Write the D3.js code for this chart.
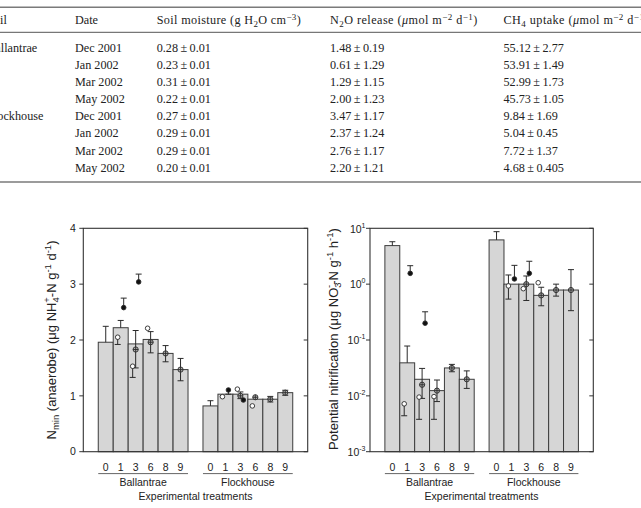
<!DOCTYPE html>
<html><head><meta charset="utf-8">
<script src="https://cdn.jsdelivr.net/npm/d3@7"></script>
<style>
html,body{margin:0;padding:0;background:#fff;}
svg{display:block;}
</style></head>
<body>
<svg id="fig" width="641" height="508"></svg>
<script>
// ---------- Table data ----------
const tblSoil = ["Ballantrae","","","","Flockhouse","","",""];
const tblDate = ["Dec 2001","Jan 2002","Mar 2002","May 2002","Dec 2001","Jan 2002","Mar 2002","May 2002"];
const moistMean = [0.28,0.23,0.31,0.22,0.27,0.29,0.29,0.20];
const moistSE = [0.01,0.01,0.01,0.01,0.01,0.01,0.01,0.01];
const n2oMean = [1.48,0.61,1.29,2.00,3.47,2.37,2.76,2.20];
const n2oSE = [0.19,1.29,1.15,1.23,1.17,1.24,1.17,1.21];
const ch4Mean = [55.12,53.91,52.99,45.73,9.84,5.04,7.72,4.68];
const ch4SE = [2.77,1.49,1.73,1.05,1.69,0.45,1.37,0.405];

// ---------- Chart data ----------
const treatments = ["0","1","3","6","8","9"];
const sites = ["Ballantrae","Flockhouse"];

// Panel 1: N min (anaerobe)
const nminBarB = [1.96, 2.22, 1.93, 2.01, 1.76, 1.47];
const nminBarF = [0.82, 1.03, 1.03, 0.94, 0.94, 1.057];
const nminBarHiB = [2.245, 2.35, null, null, null, null];
const nminBarHiF = [0.913, null, null, null, null, null];
// markers: [site, treatment, value, low, high]
const nminOpen = [["Ballantrae","1",2.05,1.92,null],["Ballantrae","3",1.53,1.33,null],["Ballantrae","6",2.21,null,null],
  ["Flockhouse","1",0.985,null,null],["Flockhouse","3",1.12,null,null],["Flockhouse","6",0.82,null,null]];
const nminFilled = [["Ballantrae","1",2.58,null,2.75],["Ballantrae","3",3.04,null,3.18],
  ["Flockhouse","1",1.105,1.03,null],["Flockhouse","3",0.925,null,null]];
const nminGrey = [["Ballantrae","3",1.83,1.50,2.17],["Ballantrae","6",1.96,1.77,2.15],["Ballantrae","8",1.76,1.61,1.90],["Ballantrae","9",1.47,1.27,1.67],
  ["Flockhouse","3",1.0,0.95,1.07],["Flockhouse","6",0.975,null,null],["Flockhouse","8",0.94,0.89,0.99],["Flockhouse","9",1.057,1.01,1.10]];
const nminTicks = [0,1,2,3,4];

// Panel 2: Potential nitrification (log)
const nitBarB = [4.9, 0.039, 0.0198, 0.0124, 0.0316, 0.0198];
const nitBarF = [6.2, 1.0, 1.0, 0.63, 0.785, 0.785];
const nitBarHiB = [5.75, 0.078, null, null, null, null];
const nitBarHiF = [8.7, null, null, null, null, null];
const nitOpen = [["Ballantrae","1",0.0072,0.0044,null],["Ballantrae","3",0.0095,0.0038,null],["Ballantrae","6",0.0097,0.0038,null],
  ["Flockhouse","1",0.93,0.54,1.46],["Flockhouse","3",0.83,null,null],["Flockhouse","6",1.06,null,null]];
const nitFilled = [["Ballantrae","1",1.56,null,2.14],["Ballantrae","3",0.2,null,0.32],
  ["Flockhouse","1",1.24,null,2.17],["Flockhouse","3",1.56,null,2.57]];
const nitGrey = [["Ballantrae","3",0.0158,0.009,0.031],["Ballantrae","6",0.0124,0.0079,0.0192],["Ballantrae","8",0.0316,0.027,0.0366],["Ballantrae","9",0.0198,0.0136,0.028],
  ["Flockhouse","3",1.0,0.51,1.40],["Flockhouse","6",0.63,0.41,0.88],["Flockhouse","8",0.785,0.61,1.0],["Flockhouse","9",0.785,0.335,1.82]];
const nitTickExp = [-3,-2,-1,0,1];

// ---------- Drawing ----------
const svg = d3.select("#fig");
const serif = "'Liberation Serif','Times New Roman',serif";
const sans = "'Liberation Sans',Arial,Helvetica,sans-serif";
const ink = "#2a2a2a";

// Table
const tbl = svg.append("g").attr("font-family", serif).attr("font-size", 12.2).attr("fill", "#222");
tbl.append("line").attr("x1",0).attr("x2",641).attr("y1",7.3).attr("y2",7.3).attr("stroke","#7a7a7a").attr("stroke-width",1.4);
tbl.append("line").attr("x1",0).attr("x2",641).attr("y1",32.3).attr("y2",32.3).attr("stroke","#555").attr("stroke-width",1);
tbl.append("line").attr("x1",0).attr("x2",641).attr("y1",182).attr("y2",182).attr("stroke","#7a7a7a").attr("stroke-width",1.4);
const colX = [-12.8, 75, 156.7, 330, 503.5];
const hdrY = 24.3;
function rich(g, x, y, parts, ls){
  const t = g.append("text").attr("x", x).attr("y", y);
  if (ls) t.attr("letter-spacing", ls);
  parts.forEach(p => {
    const s = t.append("tspan").text(p.t);
    if (p.dy) s.attr("dy", p.dy);
    if (p.fs) s.attr("font-size", p.fs);
    if (p.it) s.attr("font-style", "italic");
    if (p.dx) s.attr("dx", p.dx);
  });
  return t;
}
rich(tbl, colX[0], hdrY, [{t:"Soil"}]);
rich(tbl, colX[1], hdrY, [{t:"Date"}]);
rich(tbl, colX[2], hdrY, [{t:"Soil moisture (g H"},{t:"2",dy:3,fs:9},{t:"O cm",dy:-3},{t:"−3",dy:-4.5,fs:9},{t:")",dy:4.5}], 0.35);
rich(tbl, colX[3], hdrY, [{t:"N"},{t:"2",dy:3,fs:9},{t:"O release (",dy:-3},{t:"μ",it:true},{t:"mol m"},{t:"−2",dy:-4.5,fs:9},{t:" d",dy:4.5},{t:"−1",dy:-4.5,fs:9},{t:")",dy:4.5}], 0.45);
rich(tbl, colX[4], hdrY, [{t:"CH"},{t:"4",dy:3,fs:9},{t:" uptake (",dy:-3},{t:"μ",it:true},{t:"mol m"},{t:"−2",dy:-4.5,fs:9},{t:" d",dy:4.5},{t:"−1",dy:-4.5,fs:9},{t:")",dy:4.5}], 0.45);
const fmt = v => (Math.abs(Math.round(v*100) - v*100) > 1e-6) ? v.toFixed(3) : v.toFixed(2);
const pm = "\u2009±\u2009";
const rowY = d3.range(8).map(i => 51.7 + i*17.15);
tblDate.forEach((d,i) => {
  if (tblSoil[i]) tbl.append("text").attr("x", colX[0]).attr("y", rowY[i]).text(tblSoil[i]);
  tbl.append("text").attr("x", colX[1]).attr("y", rowY[i]).text(d);
  tbl.append("text").attr("x", colX[2]).attr("y", rowY[i]).text(fmt(moistMean[i]) + pm + fmt(moistSE[i]));
  tbl.append("text").attr("x", colX[3]).attr("y", rowY[i]).text(fmt(n2oMean[i]) + pm + fmt(n2oSE[i]));
  tbl.append("text").attr("x", colX[4]).attr("y", rowY[i]).text(fmt(ch4Mean[i]) + pm + fmt(ch4SE[i]));
});

// Chart helper
const slots = ["_a", ...treatments.map(t => "Ballantrae|" + t), "_b", ...treatments.map(t => "Flockhouse|" + t), "_c"];
const yTop = 228.3, yBot = 451.7;
const markOff = {open: -3, grey: 0, filled: 3};

function panel(cfg){
  const g = svg.append("g");
  const x = d3.scaleBand().domain(slots).range([cfg.x0, cfg.x1]).padding(0);
  const y = cfg.y;
  const bw = x.bandwidth();
  const barData = [];
  sites.forEach((s,si) => treatments.forEach((t,ti) => {
    barData.push({key: s+"|"+t, v: cfg.bars[si][ti], hi: cfg.barHi[si][ti]});
  }));
  // bars
  g.selectAll("rect.bar").data(barData).join("rect")
    .attr("x", d => x(d.key)).attr("width", bw)
    .attr("y", d => y(d.v)).attr("height", d => yBot - y(d.v))
    .attr("fill", "#d6d6d6").attr("stroke", "#3c3c3c").attr("stroke-width", 1);
  // bar error (upper)
  const be = barData.filter(d => d.hi != null);
  const cx = d => x(d.key) + bw/2;
  g.selectAll("line.be").data(be).join("line")
    .attr("x1", cx).attr("x2", cx).attr("y1", d => y(d.v)).attr("y2", d => y(d.hi))
    .attr("stroke", ink).attr("stroke-width", 1);
  g.selectAll("line.bec").data(be).join("line")
    .attr("x1", d => cx(d) - 3).attr("x2", d => cx(d) + 3).attr("y1", d => y(d.hi)).attr("y2", d => y(d.hi))
    .attr("stroke", ink).attr("stroke-width", 1);

  function markers(arr, type){
    const data = arr.map(a => ({key: a[0]+"|"+a[1], v: a[2], lo: a[3], hi: a[4]}));
    const mx = d => x(d.key) + bw/2 + markOff[type];
    const mg = g.append("g");
    data.forEach(d => {
      const xx = mx(d);
      [[d.lo],[d.hi]].forEach(([e]) => {
        if (e == null) return;
        mg.append("line").attr("x1", xx).attr("x2", xx).attr("y1", y(d.v)).attr("y2", y(e)).attr("stroke", ink).attr("stroke-width", 1);
        mg.append("line").attr("x1", xx-3).attr("x2", xx+3).attr("y1", y(e)).attr("y2", y(e)).attr("stroke", ink).attr("stroke-width", 1);
      });
    });
    mg.selectAll("circle").data(data).join("circle")
      .attr("cx", mx).attr("cy", d => y(d.v)).attr("r", type === "grey" ? 2.6 : 2.3)
      .attr("fill", type === "open" ? "#fff" : type === "filled" ? "#111" : "#b0b0b0")
      .attr("stroke", ink).attr("stroke-width", 0.9);
    if (type === "grey") {
      mg.selectAll("line.ch").data(data).join("line")
        .attr("x1", d => mx(d) - 2.6).attr("x2", d => mx(d) + 2.6).attr("y1", d => y(d.v)).attr("y2", d => y(d.v))
        .attr("stroke", ink).attr("stroke-width", 0.9);
      mg.selectAll("line.cv").data(data).join("line")
        .attr("x1", mx).attr("x2", mx).attr("y1", d => y(d.v) - 2.6).attr("y2", d => y(d.v) + 2.6)
        .attr("stroke", ink).attr("stroke-width", 0.9);
    }
  }
  markers(cfg.grey, "grey");
  markers(cfg.open, "open");
  markers(cfg.filled, "filled");

  // frame
  g.append("rect").attr("x", cfg.x0).attr("y", yTop).attr("width", cfg.x1 - cfg.x0).attr("height", yBot - yTop)
    .attr("fill", "none").attr("stroke", "#333").attr("stroke-width", 1.1);
  // y ticks left (outward) and right (inward)
  const tickVals = cfg.ticks;
  g.selectAll("line.tl").data(tickVals).join("line")
    .attr("x1", cfg.x0 - 4).attr("x2", cfg.x0).attr("y1", d => y(d)).attr("y2", d => y(d)).attr("stroke", "#333");
  g.selectAll("line.tr").data(tickVals).join("line")
    .attr("x1", cfg.x1 - 4).attr("x2", cfg.x1).attr("y1", d => y(d)).attr("y2", d => y(d)).attr("stroke", "#333");
  cfg.tickLabel(g, tickVals, y);

  // x labels
  const xl = g.append("g").attr("font-family", sans).attr("font-size", 10.5).attr("fill", "#222").attr("text-anchor", "middle");
  barData.forEach(d => {
    xl.append("text").attr("x", cx(d)).attr("y", 470.6).text(d.key.split("|")[1]);
  });
  sites.forEach(s => {
    const a = x(s + "|" + treatments[0]), b = x(s + "|" + treatments[treatments.length-1]) + bw;
    g.append("line").attr("x1", a).attr("x2", b).attr("y1", 473.6).attr("y2", 473.6).attr("stroke", "#666").attr("stroke-width", 1);
    xl.append("text").attr("x", (a+b)/2).attr("y", 485.8).text(s);
  });
  xl.append("text").attr("x", cfg.xTitleX).attr("y", 499.6).text("Experimental treatments");

  // y title
  const yt = g.append("text").attr("font-family", sans).attr("font-size", 13).attr("fill", "#222")
    .attr("text-anchor", "middle").attr("transform", `translate(${cfg.yTitleX},${cfg.yTitleY}) rotate(-90)`);
  cfg.yTitle.forEach(p => {
    const s = yt.append("tspan").text(p.t);
    if (p.dy) s.attr("dy", p.dy);
    if (p.dx) s.attr("dx", p.dx);
    if (p.fs) s.attr("font-size", p.fs);
  });
}

// Panel 1
panel({
  x0: 83.3, x1: 307.7,
  y: d3.scaleLinear().domain([0, 4]).range([yBot, yTop]),
  bars: [nminBarB, nminBarF], barHi: [nminBarHiB, nminBarHiF],
  open: nminOpen, filled: nminFilled, grey: nminGrey,
  ticks: nminTicks,
  tickLabel: (g, vals, y) => {
    g.append("g").attr("font-family", sans).attr("font-size", 10.5).attr("fill", "#222").attr("text-anchor", "end")
      .selectAll("text").data(vals).join("text")
      .attr("x", 75.8).attr("y", d => y(d) + 3.7).text(d => d3.format("d")(d));
  },
  xTitleX: 195.5,
  yTitleX: 55.5, yTitleY: 340,
  yTitle: [{t:"N"},{t:"min",dy:3,fs:9.5},{t:" (anaerobe) (",dy:-3},{t:"μ"},{t:"g NH"},{t:"4",dy:3,fs:9.5},{t:"+",dx:-5.5,dy:-9,fs:9.5},{t:"-N g",dy:6},{t:"-1",dy:-5,fs:9.5},{t:" d",dy:5},{t:"-1",dy:-5,fs:9.5},{t:")",dy:5}]
});

// Panel 2
panel({
  x0: 370, x1: 593.3,
  y: d3.scaleLog().domain([1e-3, 10]).range([yBot, yTop]),
  bars: [nitBarB, nitBarF], barHi: [nitBarHiB, nitBarHiF],
  open: nitOpen, filled: nitFilled, grey: nitGrey,
  ticks: nitTickExp.map(e => Math.pow(10, e)),
  tickLabel: (g, vals, y) => {
    const tg = g.append("g").attr("font-family", sans).attr("font-size", 10.5).attr("fill", "#222").attr("text-anchor", "end");
    vals.forEach((v,i) => {
      const t = tg.append("text").attr("x", 365.5).attr("y", y(v) + 4.2);
      t.append("tspan").text("10");
      t.append("tspan").attr("dy", -5).attr("font-size", 7).text(String(nitTickExp[i]));
    });
  },
  xTitleX: 481.5,
  yTitleX: 337.5, yTitleY: 339,
  yTitle: [{t:"Potential nitrification ("},{t:"μ"},{t:"g NO"},{t:"3",dy:3,fs:9.5},{t:"-",dx:-5.5,dy:-9,fs:9.5},{t:"-N g",dy:6},{t:"-1",dy:-5,fs:9.5},{t:" h",dy:5},{t:"-1",dy:-5,fs:9.5},{t:")",dy:5}]
});
</script>
</body></html>
